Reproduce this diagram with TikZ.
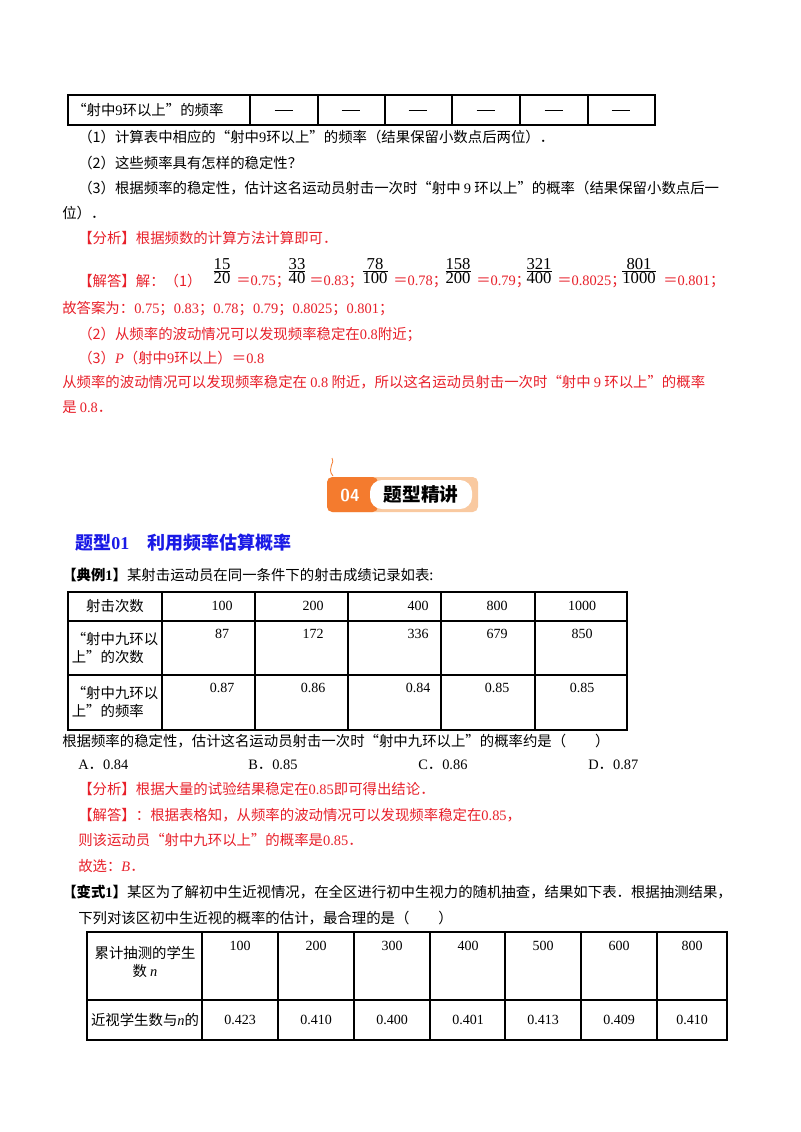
\documentclass[tikz,border=0pt]{standalone}
\usepackage{fontspec}
\setmainfont{Liberation Serif}
\newfontfamily\cjk{Noto Sans CJK SC}
\definecolor{myred}{HTML}{E8202A}
\definecolor{myblue}{HTML}{1A1AE6}
\definecolor{orng}{HTML}{F47B2E}
\definecolor{lorng}{HTML}{F9C9A0}
\newcommand{\nm}[1]{{\rmfamily #1}}
\newcommand{\fr}[2]{{\fontsize{12.5}{14}\selectfont$\frac{\displaystyle\mathrm{#1}}{\displaystyle\mathrm{#2}}$}}
\begin{document}
\begin{tikzpicture}[x=0.75pt,y=-0.75pt,
  txt/.style={anchor=west,inner sep=0pt,font=\cjk\fontsize{10.8}{13}\selectfont},
  rtxt/.style={txt,text=myred},
  cell/.style={inner sep=0pt,font=\cjk\fontsize{10.8}{13}\selectfont,align=center},
  num/.style={inner sep=0pt,font=\fontsize{10.5}{13}\selectfont},
  grid/.style={line width=0.8pt}]
\useasboundingbox[fill=white] (0,0) rectangle (800,1132);
% top table
\draw[grid] (68,95) rectangle (655,125);
\foreach \x in {250,318,385,452,520,588} \draw[grid] (\x,95) -- (\x,125);
\node[txt] (t0) at (72,110) {“射中\nm{9}环以上”的频率};
\foreach \x/\n in {284/a,351/b,418/c,486/d,554/e,621/f} \node[num] (d\n) at (\x,110) {\rule[-1pt]{14pt}{0.6pt}};
\node[txt] (l1) at (78,137) {（1）计算表中相应的“射中\nm{9}环以上”的频率（结果保留小数点后两位）．};
\node[txt] (l2) at (78,163) {（2）这些频率具有怎样的稳定性？};
\node[txt] (l3) at (78,188) {（3）根据频率的稳定性，估计这名运动员射击一次时“射中 \nm{9} 环以上”的概率（结果保留小数点后一};
\node[txt] (l4) at (62,213) {位）．};
\node[rtxt] (l5) at (78,238) {【分析】根据频数的计算方法计算即可．};
\node[rtxt] (l6) at (78,281) {【解答】解：（1）};
\node[num] (f1) at (222,271) {\fr{15}{20}};
\node[txt,text=myred] (r1) at (236,282) {＝\nm{0.75}；};
\node[num] (f2) at (297,271) {\fr{33}{40}};
\node[txt,text=myred] (r2) at (309,282) {＝\nm{0.83}；};
\node[num] (f3) at (375,271) {\fr{78}{100}};
\node[txt,text=myred] (r3) at (393,282) {＝\nm{0.78}；};
\node[num] (f4) at (458,271) {\fr{158}{200}};
\node[txt,text=myred] (r4) at (476,282) {＝\nm{0.79}；};
\node[num] (f5) at (539,271) {\fr{321}{400}};
\node[txt,text=myred] (r5) at (557,282) {＝\nm{0.8025}；};
\node[num] (f6) at (639,271) {\fr{801}{1000}};
\node[txt,text=myred] (r6) at (663,282) {＝\nm{0.801}；};
\node[rtxt] (l7) at (62,309) {故答案为：\nm{0.75}；\nm{0.83}；\nm{0.78}；\nm{0.79}；\nm{0.8025}；\nm{0.801}；};
\node[rtxt] (l8) at (78,334) {（2）从频率的波动情况可以发现频率稳定在\nm{0.8}附近；};
\node[rtxt] (l9) at (78,358) {（3）\nm{\textit{P}}（射中\nm{9}环以上）＝\nm{0.8}};
\node[rtxt] (l10) at (62,382) {从频率的波动情况可以发现频率稳定在 \nm{0.8} 附近，所以这名运动员射击一次时“射中 \nm{9} 环以上”的概率};
\node[rtxt] (l11) at (62,407) {是 \nm{0.8}．};
% banner
\draw[orng,line width=0.6pt] (333,476) .. controls (326,468) and (336,462) .. (332,458);
\fill[lorng,rounded corners=4pt] (327,477) rectangle (478,512);
\fill[orng,rounded corners=4pt] (327,477) rectangle (378,512);
\fill[white,rounded corners=9pt] (370,480) rectangle (472,509);
\node[inner sep=0pt,text=white,font=\sffamily\bfseries\fontsize{13}{15}\selectfont] (b1) at (350,495) {04};
\node[inner sep=0pt,font=\cjk\bfseries\fontsize{14}{16}\selectfont] (b2) at (421,494) {题型精讲};
\node[txt,text=myblue,font=\cjk\bfseries\fontsize{13.5}{16}\selectfont] (h1) at (75,543) {题型\nm{01}\quad 利用频率估算概率};
\node[txt] (e1) at (62,575) {\textbf{【典例\nm{1}】}某射击运动员在同一条件下的射击成绩记录如表:};
% table 2
\draw[grid] (68,592) rectangle (627,730);
\draw[grid] (68,621) -- (627,621) (68,675) -- (627,675);
\foreach \x in {162,255,348,441,535} \draw[grid] (\x,592) -- (\x,730);
\node[cell] (c00) at (115,606) {射击次数};
\node[cell,align=left] (c10) at (115,648) {“射中九环以\\上”的次数};
\node[cell,align=left] (c20) at (115,702) {“射中九环以\\上”的频率};
\foreach \x/\a/\b/\c in {222/100/87/0.87,313/200/172/0.86,418/400/336/0.84,497/800/679/0.85,582/1000/850/0.85}{
  \node[num] at (\x,606) {\a};
  \node[num] at (\x,634) {\b};
  \node[num] at (\x,688) {\c};}
\node[txt] (q1) at (62,741) {根据频率的稳定性，估计这名运动员射击一次时“射中九环以上”的概率约是（\qquad）};
\node[txt] (o1) at (78,765) {\nm{A}．\nm{0.84}};
\node[txt] (o2) at (248,765) {\nm{B}．\nm{0.85}};
\node[txt] (o3) at (418,765) {\nm{C}．\nm{0.86}};
\node[txt] (o4) at (588,765) {\nm{D}．\nm{0.87}};
\node[rtxt] (a1) at (78,789) {【分析】根据大量的试验结果稳定在\nm{0.85}即可得出结论．};
\node[rtxt] (a2) at (78,815) {【解答】：根据表格知，从频率的波动情况可以发现频率稳定在\nm{0.85}，};
\node[rtxt] (a3) at (78,840) {则该运动员“射中九环以上”的概率是\nm{0.85}．};
\node[rtxt] (a4) at (78,866) {故选：\nm{\textit{B}}．};
\node[txt] (v1) at (62,892) {\textbf{【变式\nm{1}】}某区为了解初中生近视情况，在全区进行初中生视力的随机抽查，结果如下表．根据抽测结果，};
\node[txt] (v2) at (78,918) {下列对该区初中生近视的概率的估计，最合理的是（\qquad）};
% table 3
\draw[grid] (87,932) rectangle (727,1040);
\draw[grid] (87,1000) -- (727,1000);
\foreach \x in {202,278,354,430,505,581,657} \draw[grid] (\x,932) -- (\x,1040);
\node[cell] (g0) at (145,962) {累计抽测的学生\\数 \nm{\textit{n}}};
\node[cell] (g1) at (145,1020) {近视学生数与\nm{\textit{n}}的};
\foreach \x/\a/\b in {240/100/0.423,316/200/0.410,392/300/0.400,468/400/0.401,543/500/0.413,619/600/0.409,692/800/0.410}{
  \node[num] at (\x,946) {\a};
  \node[num] at (\x,1020) {\b};}
\end{tikzpicture}
\end{document}
